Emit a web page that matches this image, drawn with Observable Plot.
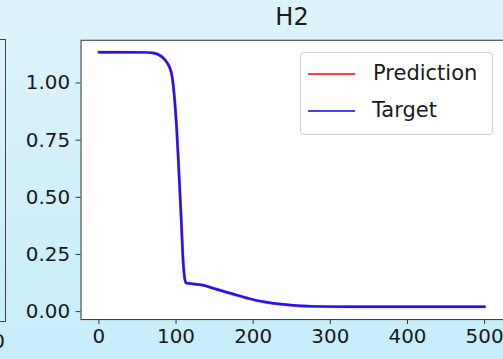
<!DOCTYPE html>
<html>
<head>
<meta charset="utf-8">
<script src="https://cdn.jsdelivr.net/npm/d3@7"></script>
<script src="https://cdn.jsdelivr.net/npm/@observablehq/plot@0.6"></script>
<style>
  html, body { margin: 0; padding: 0; }
  body { width: 503px; height: 359px; overflow: hidden; font-family: "DejaVu Sans", sans-serif; }
  #wrap { position: relative; width: 503px; height: 359px; overflow: hidden;
    background: linear-gradient(to bottom, #ddf3fb 0%, #d2f0fa 50%, #c5eefa 100%); }
  #wrap svg { position: absolute; left: 0; top: 0; background: transparent; }
  .abs { position: absolute; }
  #title { left: 192px; width: 200px; top: 3px; text-align: center; font-size: 24px; color: #1a1a1a; }
  #legend { left: 300px; top: 52px; width: 191px; height: 81px; border: 1px solid #d0d0d0; border-radius: 4px; background: rgba(255,255,255,0.85); }
  .lg-line { position: absolute; left: 7px; width: 47px; height: 2px; }
  .lg-text { position: absolute; font-size: 21px; color: #1a1a1a; line-height: 21px; }
  .prev { background: #444; }
</style>
</head>
<body>
<div id="wrap">
  <div class="abs prev" style="left:0;top:39px;width:6px;height:1px"></div>
  <div class="abs prev" style="left:5px;top:39px;width:1px;height:283px"></div>
  <div class="abs prev" style="left:0;top:321px;width:6px;height:1px"></div>
  <div class="abs" style="left:-50px;width:55px;top:330px;text-align:right;font-size:20px;color:#1a1a1a;line-height:22px">500</div>
  <div id="chart"></div>
  <div id="title" class="abs">H2</div>
  <div id="legend" class="abs">
    <div class="lg-line" style="top:20px;background:rgba(255,0,0,0.75)"></div>
    <div class="lg-text" style="left:72px;top:10px">Prediction</div>
    <div class="lg-line" style="top:57px;background:rgba(0,0,255,0.75)"></div>
    <div class="lg-text" style="left:71px;top:47px">Target</div>
  </div>
</div>
<script>
const steps = [0, 30, 60, 70, 77, 83, 88, 92, 95, 97.5, 100.6, 103, 105, 107, 109, 111, 113, 120, 135, 150, 173, 195, 216, 238, 260, 281, 320, 400, 500];
const target = [1.135, 1.135, 1.134, 1.131, 1.124, 1.11, 1.09, 1.065, 1.025, 0.95, 0.81, 0.66, 0.52, 0.38, 0.23, 0.15, 0.125, 0.122, 0.115, 0.1, 0.078, 0.057, 0.042, 0.032, 0.026, 0.023, 0.021, 0.021, 0.021];
const prediction = [1.135, 1.135, 1.134, 1.132, 1.125, 1.112, 1.092, 1.068, 1.029, 0.955, 0.815, 0.665, 0.525, 0.385, 0.235, 0.152, 0.126, 0.123, 0.116, 0.101, 0.077, 0.056, 0.041, 0.031, 0.025, 0.022, 0.021, 0.021, 0.021];
const xTicks = [0, 100, 200, 300, 400, 500];
const yTicks = [0, 0.25, 0.5, 0.75, 1.0];

const rows = steps.map((s, i) => ({step: s, target: target[i], prediction: prediction[i]}));

const chart = Plot.plot({
  width: 506,
  height: 359,
  marginLeft: 81,
  marginRight: 0,
  marginTop: 40,
  marginBottom: 38,
  style: {fontFamily: "DejaVu Sans", fontSize: "20px", color: "#1a1a1a", background: "transparent"},
  x: {domain: [-23.2, 524.5]},
  y: {domain: [-0.0348, 1.187]},
  marks: [
    Plot.frame({fill: "white", stroke: "#333", strokeWidth: 1}),
    Plot.line(rows, {x: "step", y: "prediction", stroke: "red", strokeOpacity: 0.5, strokeWidth: 3, curve: "monotone-x"}),
    Plot.line(rows, {x: "step", y: "target", stroke: "#1010ff", strokeOpacity: 0.95, strokeWidth: 2.5, curve: "monotone-x"}),
    Plot.axisX({ticks: xTicks, tickSize: 5, tickPadding: 4, fontSize: 20, label: null, stroke: "#333"}),
    Plot.axisY({ticks: yTicks, tickSize: 5, tickPadding: 6, fontSize: 20, label: null, tickFormat: d3.format(".2f"), stroke: "#333"})
  ]
});
document.getElementById("chart").appendChild(chart);
</script>
</body>
</html>
